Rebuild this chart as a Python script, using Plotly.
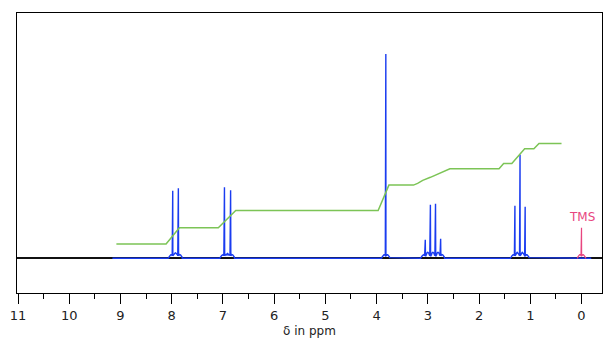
import numpy as np
import plotly.graph_objects as go

# Peak list (ppm, relative height)
peak_ppm = [7.98, 7.87, 6.97, 6.85, 3.82, 3.05, 2.95, 2.85, 2.75, 1.30, 1.20, 1.10]
peak_height = [67.5, 70, 71, 68, 204.5, 18.5, 53.5, 54.5, 19.5, 52.5, 103.5, 51.5]

tms_ppm = 0.0
tms_height = 30.5

# Integration curve (ppm, integral value)
integ_ppm = [9.08, 8.11, 7.85, 7.09, 6.75, 3.97, 3.76, 3.28, 3.20, 3.10, 2.95, 2.80,
             2.66, 2.57, 1.61, 1.52, 1.36, 1.11, 0.93, 0.83, 0.39]
integ_val = [14.2, 14.2, 30.5, 30.5, 47.8, 47.8, 73.2, 73.2, 75.0, 78.0, 81.0, 84.5,
             87.5, 89.5, 89.5, 94.8, 94.8, 109.5, 109.5, 114.8, 114.8]

spec_start, spec_end = 9.16, -0.19
tick_vals = list(range(0, 12))
tick_text = [str(v) for v in tick_vals]

FOOT_H = 4.0
FOOT_W = 0.075


def spectrum(centers, heights, lo, hi):
    grid = np.arange(hi, lo, 0.004)
    grid = np.unique(np.concatenate([grid, np.array(centers)]))
    y = np.zeros_like(grid)
    for c, h in zip(centers, heights):
        d = np.abs(grid - c)
        y += FOOT_H * np.sqrt(np.clip(1 - (d / FOOT_W) ** 2, 0, None)) * np.clip(d / 0.02, 0.6, 1)
        y = np.where(d < 1e-9, h, y)
    return grid, y


sx, sy = spectrum(peak_ppm, peak_height, spec_start, spec_end)
tx, ty = spectrum([tms_ppm], [tms_height], tms_ppm + 0.09, tms_ppm - 0.09)

fig = go.Figure()
fig.add_trace(go.Scatter(x=sx, y=sy, mode="lines",
                         line=dict(color="#1a3cf0", width=1.4), hoverinfo="skip"))
fig.add_trace(go.Scatter(x=tx, y=ty, mode="lines",
                         line=dict(color="#e8457f", width=1.2), hoverinfo="skip"))
fig.add_trace(go.Scatter(x=integ_ppm, y=integ_val, mode="lines",
                         line=dict(color="#7cc456", width=1.5), hoverinfo="skip"))

fig.add_annotation(x=tms_ppm, y=41, text="TMS", showarrow=False,
                   font=dict(color="#e8457f", size=12, family="DejaVu Sans"))
fig.add_annotation(x=0.5, xref="paper", y=-0.136, yref="paper", text="δ in ppm",
                   showarrow=False, yanchor="middle",
                   font=dict(size=12, family="DejaVu Sans", color="#222222"))

fig.update_layout(
    width=610, height=344,
    margin=dict(l=17, r=8, t=13, b=51),
    paper_bgcolor="white", plot_bgcolor="white",
    showlegend=False,
    font=dict(family="DejaVu Sans", size=12, color="#222222"),
    xaxis=dict(
        range=[11.02, -0.40], automargin=False,
        tickvals=tick_vals, ticktext=tick_text,
        ticks="outside", ticklen=10, tickcolor="black", tickwidth=1,
        minor=dict(dtick=0.5, tick0=0, ticks="outside", ticklen=5,
                   tickcolor="black", tickwidth=1, showgrid=False),
        showgrid=False, zeroline=False,
        showline=True, linecolor="black", linewidth=1.3, mirror=True,
        tickfont=dict(size=13),
    ),
    yaxis=dict(
        range=[-34.8, 245.5], automargin=False,
        showticklabels=False, ticks="", showgrid=False,
        zeroline=True, zerolinecolor="#111111", zerolinewidth=1.5,
        showline=True, linecolor="black", linewidth=1.3, mirror=True,
    ),
)

fig.write_html(
    "out.html",
    config={"displayModeBar": False},
    post_script="document.body.style.margin='0';document.body.style.overflow='hidden';",
)
